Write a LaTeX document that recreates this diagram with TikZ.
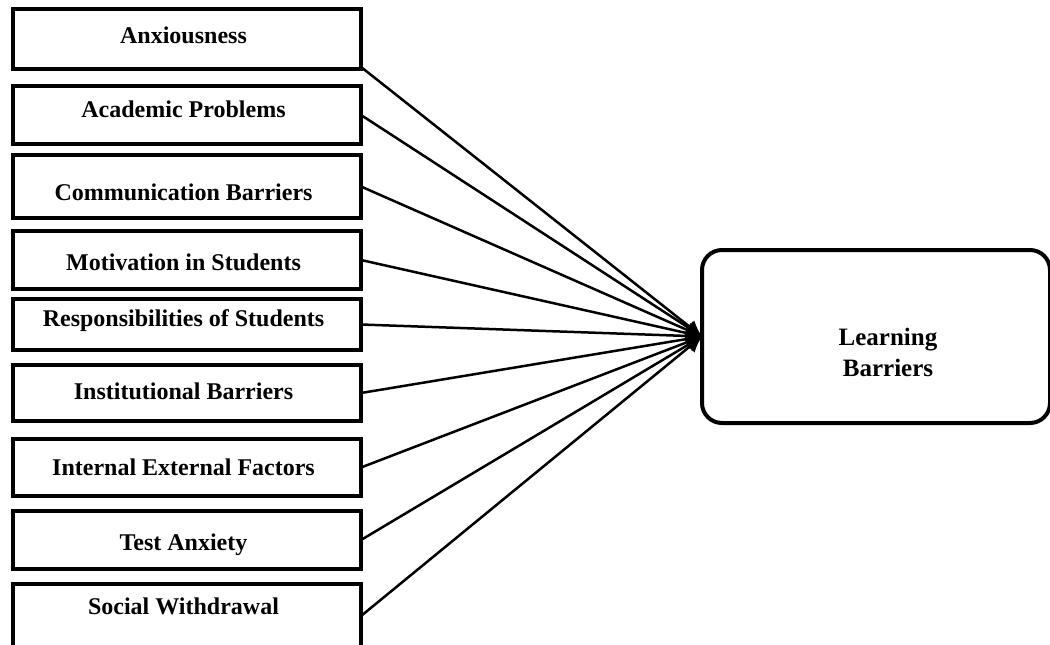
\documentclass[tikz,border=0pt]{standalone}
\usepackage{fontspec}
\setmainfont{Liberation Serif}
\usetikzlibrary{arrows.meta}
\begin{document}
\begin{tikzpicture}[x=1pt,y=-1pt,
  factor/.style={draw, line width=4pt, minimum width=348pt, inner sep=0pt, outer sep=0pt, fill=white},
  lbl/.style={anchor=base, font=\fontsize{24}{28}\selectfont\bfseries, inner sep=0pt},
  link/.style={line width=2.5pt, -{Latex[length=16pt,width=16pt]}},
  outcome/.style={draw, line width=4pt, rounded corners=20pt, minimum width=348pt, minimum height=173pt, inner sep=0pt, outer sep=0pt, fill=white}]
\useasboundingbox (0,0) rectangle (1050,645);
% factor boxes
\node[factor, minimum height=60pt] (b1) at (187,39) {};
\node[factor, minimum height=58pt] (b2) at (187,115) {};
\node[factor, minimum height=63pt] (b3) at (187,186.5) {};
\node[factor, minimum height=58pt] (b4) at (187,260) {};
\node[factor, minimum height=51pt] (b5) at (187,324.5) {};
\node[factor, minimum height=56pt] (b6) at (187,393) {};
\node[factor, minimum height=57pt] (b7) at (187,467.5) {};
\node[factor, minimum height=58pt] (b8) at (187,540) {};
\node[factor, minimum height=64pt] (b9) at (187,616) {};
% labels
\node[lbl] (t1) at (183.5,43) {Anxiousness};
\node[lbl] (t2) at (183.5,117) {Academic Problems};
\node[lbl] (t3) at (183.5,200) {Communication Barriers};
\node[lbl] (t4) at (183.5,270) {Motivation in Students};
\node[lbl] (t5) at (183.5,326) {Responsibilities of Students};
\node[lbl] (t6) at (183.5,399) {Institutional Barriers};
\node[lbl] (t7) at (183.5,475) {Internal External Factors};
\node[lbl] (t8) at (183.5,550) {Test Anxiety};
\node[lbl] (t9) at (183.5,614) {Social Withdrawal};
% outcome
\node[outcome] (lb) at (876,336.5) {};
\node[font=\fontsize{25}{31}\selectfont\bfseries, align=center, inner sep=0pt] (lbt) at (888,352) {Learning\\Barriers};
% connectors
\draw[link] ([yshift=2pt]b1.south east) -- (lb.west);
\foreach \i in {2,...,9} { \draw[link] (b\i.east) -- (lb.west); }
\end{tikzpicture}
\end{document}
